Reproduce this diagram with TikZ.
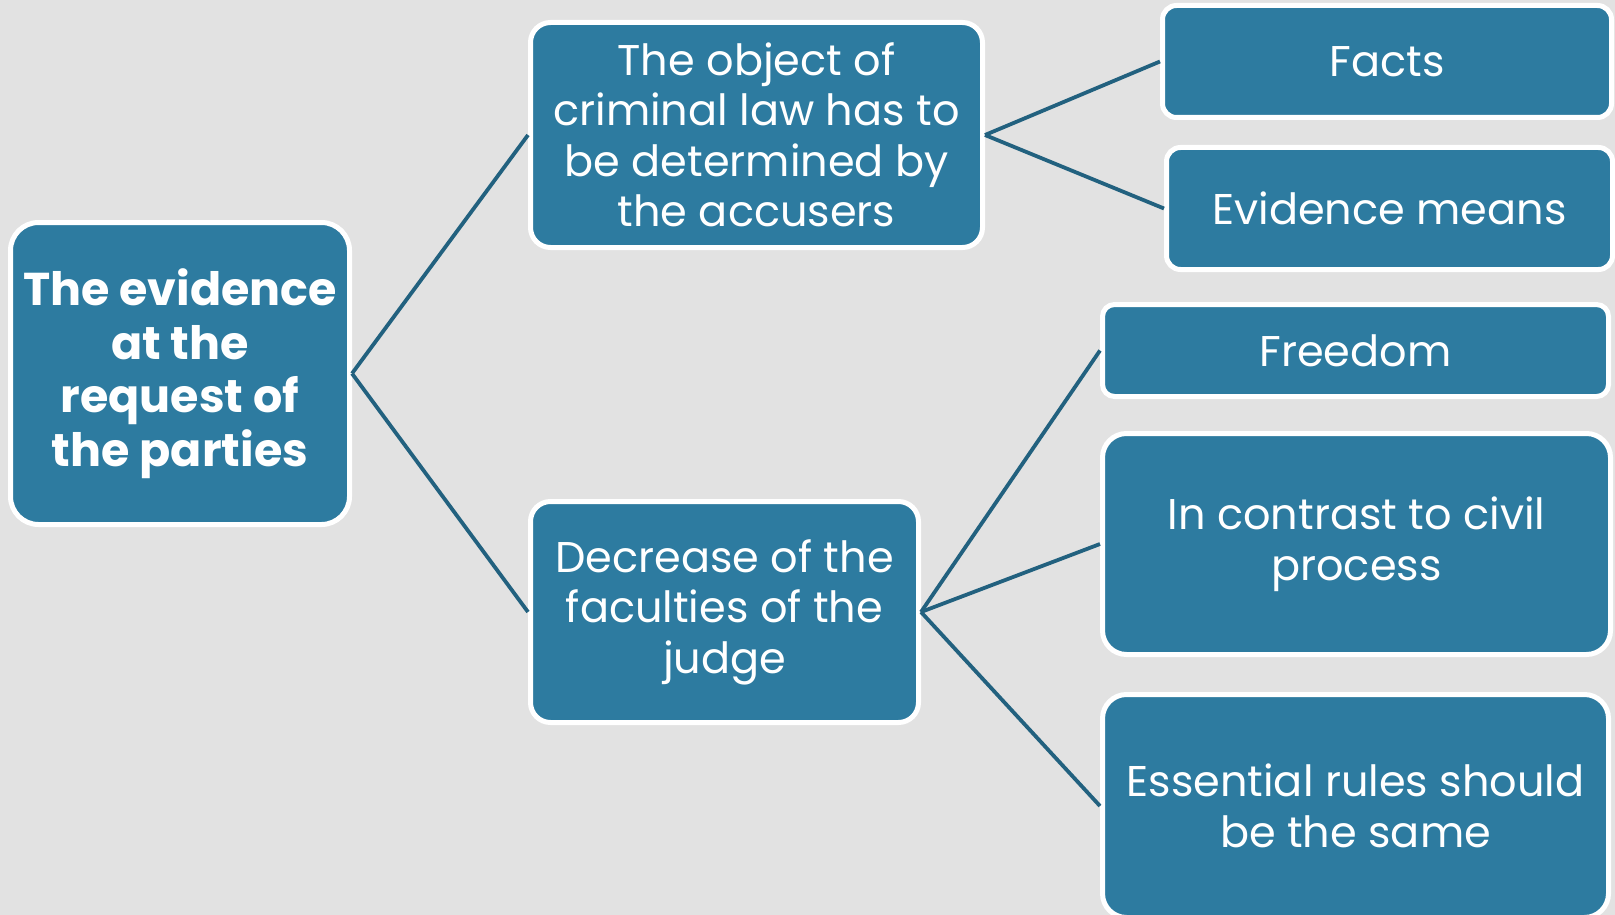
\documentclass[tikz,border=0pt]{standalone}
\usepackage{fontspec}
\setmainfont{Poppins}
\definecolor{bgray}{HTML}{E2E2E2}
\definecolor{boxblue}{HTML}{2D7BA0}
\definecolor{linkteal}{HTML}{22617F}
\tikzset{
  card/.style={rectangle, draw=white, line width=5pt, fill=boxblue,
    text=white, align=center, inner sep=0pt, font=\fontsize{43}{50.5}\selectfont},
  rootcard/.style={card, rounded corners=28pt, font=\bfseries\fontsize{46}{53.5}\selectfont},
  link/.style={draw=linkteal, line width=3.8pt}
}
\begin{document}
\begin{tikzpicture}[x=1pt,y=-1pt]
  \fill[bgray] (0,0) rectangle (1615,915);
  \useasboundingbox (0,0) rectangle (1615,915);
  \clip (0,0) rectangle (1615,915);

  % level 1
  \node[rootcard, minimum width=339pt, minimum height=302pt] (root) at (180,373.5)
    {The evidence\\at the\\request of\\the parties};

  % level 2
  \node[card, rounded corners=20pt, minimum width=452pt, minimum height=225pt] (object) at (756.5,135)
    {The object of\\criminal law has to\\be determined by\\the accusers};
  \node[card, rounded corners=20pt, minimum width=388pt, minimum height=221pt] (decrease) at (724.5,612)
    {Decrease of the\\faculties of the\\judge};

  % level 3
  \node[card, rounded corners=14pt, minimum width=449pt, minimum height=112pt] (facts) at (1387,61.5)
    {Facts};
  \node[card, rounded corners=14pt, minimum width=446pt, minimum height=122pt] (means) at (1389.5,208.5)
    {Evidence means};
  \node[card, rounded corners=12pt, minimum width=506pt, minimum height=92pt] (freedom) at (1355.5,350.5)
    {Freedom};
  \node[card, rounded corners=24pt, minimum width=508pt, minimum height=221pt] (contrast) at (1356.5,544)
    {In contrast to civil\\process};
  \node[card, rounded corners=24pt, minimum width=506pt, minimum height=223pt] (rules) at (1355.5,806)
    {Essential rules should\\be the same};

  % connectors
  \draw[link] (root.east) -- (object.west);
  \draw[link] (root.east) -- (decrease.west);
  \draw[link] (object.east) -- (facts.west);
  \draw[link] (object.east) -- (means.west);
  \draw[link] (decrease.east) -- (freedom.west);
  \draw[link] (decrease.east) -- (contrast.west);
  \draw[link] (decrease.east) -- (rules.west);
\end{tikzpicture}
\end{document}
